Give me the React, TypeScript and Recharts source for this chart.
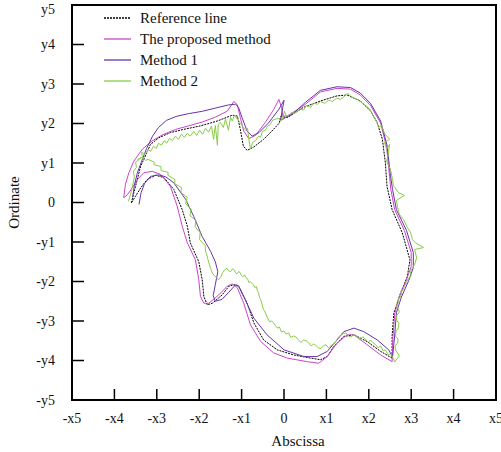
import { LineChart, Line, XAxis, YAxis, ReferenceArea } from 'recharts';

const xTicks = [-5, -4, -3, -2, -1, 0, 1, 2, 3, 4, 5];
const xTickLabels = ['-x5', '-x4', '-x3', '-x2', '-x1', '0', 'x1', 'x2', 'x3', 'x4', 'x5'];
const yTicks = [-5, -4, -3, -2, -1, 0, 1, 2, 3, 4, 5];
const yTickLabels = ['-y5', '-y4', '-y3', '-y2', '-y1', '0', 'y1', 'y2', 'y3', 'y4', 'y5'];

const seriesNames = ['Reference line', 'The proposed method', 'Method 1', 'Method 2'];

// [x, y] points, in drawing order
const referencePath: [number, number][] = [
  [-3.6, -0.01], [-3.54, 0.25], [-3.38, 0.92], [-3.15, 1.47], [-2.95, 1.64], [-2.68, 1.77],
  [-2.37, 1.85], [-1.97, 1.94], [-1.58, 2.06], [-1.22, 2.21], [-1.1, 2.19], [-1.03, 1.85],
  [-0.96, 1.43], [-0.87, 1.32], [-0.72, 1.4], [-0.48, 1.6], [-0.25, 1.85], [-0.11, 2.01],
  [-0.08, 2.18], [0.08, 2.15], [0.46, 2.41], [0.86, 2.57], [1.25, 2.7], [1.49, 2.72],
  [1.8, 2.57], [2.04, 2.32], [2.2, 2.02], [2.32, 1.6], [2.39, 1.01], [2.43, 0.41],
  [2.55, -0.18], [2.79, -0.77], [2.97, -1.45], [2.91, -1.87], [2.75, -2.29], [2.59, -2.8],
  [2.55, -3.39], [2.55, -3.94], [2.28, -3.77], [1.96, -3.52], [1.65, -3.35], [1.41, -3.39],
  [1.17, -3.65], [1.02, -3.9], [0.86, -3.98], [0.63, -3.94], [0.23, -3.86], [-0.16, -3.73],
  [-0.48, -3.48], [-0.71, -3.05], [-0.87, -2.55], [-1.07, -2.12], [-1.18, -2.08], [-1.3, -2.12],
  [-1.46, -2.34], [-1.69, -2.55], [-1.81, -2.59], [-1.89, -2.38], [-1.93, -1.95], [-2.01, -1.5],
  [-2.21, -1.02], [-2.28, -0.6], [-2.4, -0.18], [-2.6, 0.33], [-2.83, 0.63], [-3.03, 0.69],
  [-3.23, 0.58], [-3.38, 0.37], [-3.5, 0.16], [-3.6, -0.01],
];

const proposedPath: [number, number][] = [
  [-3.78, 0.12], [-3.74, 0.46], [-3.66, 0.75], [-3.54, 1.05], [-3.34, 1.35], [-3.11, 1.56],
  [-2.87, 1.71], [-2.56, 1.85], [-2.25, 1.94], [-1.92, 2.04], [-1.62, 2.16], [-1.34, 2.31],
  [-1.18, 2.56], [-1.1, 2.47], [-1.03, 2.15], [-0.95, 1.81], [-0.83, 1.62], [-0.67, 1.7],
  [-0.44, 2.03], [-0.24, 2.36], [-0.12, 2.61], [-0.06, 2.41], [-0.03, 2.19], [0.08, 2.19],
  [0.27, 2.32], [0.51, 2.49], [0.86, 2.8], [1.25, 2.89], [1.57, 2.87], [1.8, 2.72],
  [2.04, 2.46], [2.28, 2.01], [2.42, 1.4], [2.49, 0.66], [2.52, 0.33], [2.61, -0.18],
  [2.84, -0.71], [3.0, -1.27], [3.0, -1.62], [2.88, -1.98], [2.72, -2.39], [2.61, -2.82],
  [2.57, -3.4], [2.55, -4.03], [2.28, -3.86], [1.96, -3.6], [1.65, -3.35], [1.49, -3.35],
  [1.25, -3.56], [1.02, -3.9], [0.82, -4.07], [0.55, -4.03], [0.08, -3.94], [-0.24, -3.81],
  [-0.55, -3.52], [-0.79, -3.1], [-0.95, -2.55], [-1.1, -2.16], [-1.22, -2.06], [-1.34, -2.12],
  [-1.54, -2.34], [-1.77, -2.55], [-1.89, -2.55], [-1.97, -2.38], [-2.01, -1.95], [-2.09, -1.45],
  [-2.28, -1.02], [-2.4, -0.6], [-2.52, -0.09], [-2.68, 0.41], [-2.91, 0.71], [-3.11, 0.79],
  [-3.31, 0.75], [-3.46, 0.58], [-3.58, 0.37], [-3.69, 0.2], [-3.78, 0.12],
];

const method1Path: [number, number][] = [
  [-3.57, 0.13], [-3.53, 0.43], [-3.46, 0.74], [-3.36, 1.04], [-3.24, 1.37], [-3.1, 1.68],
  [-2.96, 1.9], [-2.77, 2.08], [-2.54, 2.18], [-2.25, 2.25], [-1.92, 2.31], [-1.62, 2.39],
  [-1.31, 2.47], [-1.14, 2.49], [-1.07, 2.4], [-0.99, 2.15], [-0.87, 1.81], [-0.75, 1.68],
  [-0.59, 1.77], [-0.36, 2.02], [-0.12, 2.36], [0.0, 2.59], [-0.08, 2.08], [0.04, 2.15],
  [0.19, 2.23], [0.51, 2.54], [0.86, 2.84], [1.25, 2.93], [1.57, 2.91], [1.8, 2.77],
  [2.04, 2.51], [2.28, 2.06], [2.43, 1.45], [2.51, 0.69], [2.56, 0.33], [2.65, -0.18],
  [2.89, -0.71], [3.05, -1.27], [3.05, -1.65], [2.94, -1.98], [2.77, -2.39], [2.65, -2.79],
  [2.61, -3.38], [2.56, -3.91], [2.47, -3.73], [2.2, -3.48], [1.88, -3.27], [1.65, -3.18],
  [1.41, -3.27], [1.25, -3.48], [1.02, -3.77], [0.78, -3.9], [0.47, -3.9], [0.0, -3.73],
  [-0.4, -3.35], [-0.71, -2.93], [-0.95, -2.38], [-1.07, -2.11], [-1.14, -2.08], [-1.3, -2.27],
  [-1.46, -2.45], [-1.62, -2.5], [-1.67, -2.36], [-1.62, -2.08], [-1.56, -1.75], [-1.62, -1.5],
  [-1.73, -1.24], [-1.93, -0.86], [-2.13, -0.35], [-2.32, 0.08], [-2.6, 0.5], [-2.79, 0.65],
  [-2.96, 0.7], [-3.15, 0.66], [-3.29, 0.48], [-3.37, 0.25], [-3.42, -0.05],
];

const method2Path: [number, number][] = [
  [-3.67, 0.03], [-3.62, 0.2], [-3.57, 0.43], [-3.53, 0.63], [-3.55, 0.79], [-3.48, 0.89],
  [-3.5, 1.02], [-3.41, 1.09], [-3.34, 1.17], [-3.36, 1.27], [-3.27, 1.22], [-3.2, 1.35],
  [-3.15, 1.29], [-3.08, 1.42], [-3.01, 1.37], [-2.96, 1.5], [-2.89, 1.45], [-2.82, 1.57],
  [-2.77, 1.5], [-2.7, 1.62], [-2.63, 1.57], [-2.56, 1.68], [-2.49, 1.6], [-2.42, 1.73],
  [-2.35, 1.65], [-2.28, 1.75], [-2.21, 1.68], [-2.13, 1.8], [-2.06, 1.7], [-1.99, 1.83],
  [-1.92, 1.73], [-1.85, 1.88], [-1.78, 1.78], [-1.71, 1.93], [-1.66, 1.6], [-1.62, 1.95],
  [-1.57, 1.45], [-1.55, 1.98], [-1.5, 2.03], [-1.43, 1.9], [-1.38, 2.11], [-1.31, 1.83],
  [-1.26, 2.16], [-1.22, 2.06], [-1.17, 2.21], [-1.1, 2.11], [-1.03, 2.01], [-0.98, 1.93],
  [-0.91, 1.83], [-0.86, 1.88], [-0.83, 1.6], [-0.79, 1.35], [-0.74, 1.52], [-0.67, 1.57],
  [-0.6, 1.68], [-0.55, 1.65], [-0.51, 1.8], [-0.44, 1.83], [-0.39, 1.93], [-0.32, 1.98],
  [-0.27, 2.08], [-0.2, 2.11], [-0.13, 2.13], [-0.08, 2.06], [-0.04, 2.11], [0.01, 2.31],
  [0.06, 2.18], [0.13, 2.23], [0.18, 2.28], [0.25, 2.26], [0.32, 2.31], [0.39, 2.36],
  [0.46, 2.34], [0.53, 2.46], [0.63, 2.41], [0.7, 2.51], [0.79, 2.49], [0.86, 2.56],
  [0.96, 2.51], [1.05, 2.59], [1.14, 2.56], [1.24, 2.64], [1.33, 2.61], [1.43, 2.69],
  [1.5, 2.77], [1.57, 2.69], [1.66, 2.64], [1.76, 2.59], [1.85, 2.51], [1.95, 2.44],
  [2.04, 2.34], [2.11, 2.18], [2.18, 2.06], [2.23, 1.9], [2.3, 1.95], [2.37, 1.75],
  [2.49, 1.6], [2.37, 1.52], [2.42, 1.35], [2.49, 1.47], [2.46, 1.22], [2.42, 1.04],
  [2.51, 0.84], [2.56, 0.58], [2.58, 0.43], [2.7, 0.25], [2.84, 0.18], [2.65, 0.05],
  [2.68, -0.13], [2.72, -0.3], [2.82, -0.43], [2.91, -0.64], [2.98, -0.74], [3.03, -0.94],
  [3.1, -1.02], [3.29, -1.14], [3.08, -1.19], [3.13, -1.4], [3.08, -1.57], [2.98, -1.75],
  [3.0, -1.85], [2.91, -1.95], [2.9, -2.03], [2.84, -2.11], [2.82, -2.18], [2.77, -2.26],
  [2.76, -2.36], [2.7, -2.46], [2.71, -2.53], [2.65, -2.61], [2.69, -2.69], [2.72, -2.77],
  [2.66, -2.86], [2.65, -2.97], [2.71, -3.06], [2.7, -3.17], [2.64, -3.27], [2.63, -3.38],
  [2.69, -3.46], [2.68, -3.55], [2.62, -3.64], [2.63, -3.73], [2.72, -3.88], [2.61, -4.04],
  [2.56, -3.9], [2.51, -3.83], [2.46, -3.86], [2.39, -3.73], [2.34, -3.76], [2.28, -3.63],
  [2.22, -3.68], [2.16, -3.6], [2.1, -3.55], [2.04, -3.48], [1.99, -3.54], [1.95, -3.5],
  [1.9, -3.43], [1.85, -3.4], [1.8, -3.47], [1.76, -3.45], [1.7, -3.36], [1.64, -3.35],
  [1.58, -3.41], [1.52, -3.38], [1.46, -3.3], [1.4, -3.32], [1.34, -3.36], [1.29, -3.4],
  [1.23, -3.5], [1.17, -3.58], [1.11, -3.62], [1.05, -3.68], [0.99, -3.6], [0.93, -3.63],
  [0.87, -3.7], [0.81, -3.68], [0.75, -3.62], [0.7, -3.58], [0.64, -3.63], [0.58, -3.55],
  [0.52, -3.5], [0.46, -3.48], [0.4, -3.54], [0.34, -3.48], [0.28, -3.4], [0.22, -3.38],
  [0.16, -3.42], [0.11, -3.3], [0.05, -3.33], [-0.01, -3.25], [-0.06, -3.28], [-0.11, -3.15],
  [-0.16, -3.18], [-0.2, -3.12], [-0.25, -3.04], [-0.29, -3.0], [-0.34, -3.02], [-0.39, -2.92],
  [-0.43, -2.82], [-0.46, -2.74], [-0.49, -2.7], [-0.51, -2.61], [-0.55, -2.46], [-0.58, -2.4],
  [-0.6, -2.28], [-0.63, -2.22], [-0.65, -2.13], [-0.69, -2.15], [-0.72, -2.08], [-0.76, -2.04],
  [-0.79, -2.01], [-0.83, -2.02], [-0.86, -1.93], [-0.9, -1.9], [-0.93, -1.83], [-0.97, -1.88],
  [-1.0, -1.85], [-1.04, -1.77], [-1.07, -1.75], [-1.11, -1.81], [-1.14, -1.78], [-1.18, -1.7],
  [-1.21, -1.68], [-1.26, -1.75], [-1.31, -1.73], [-1.35, -1.66], [-1.38, -1.7], [-1.42, -1.72],
  [-1.45, -1.78], [-1.48, -1.86], [-1.5, -1.9], [-1.54, -1.95], [-1.57, -1.93], [-1.61, -1.89],
  [-1.64, -1.85], [-1.68, -1.8], [-1.71, -1.73], [-1.74, -1.64], [-1.76, -1.57], [-1.8, -1.42],
  [-1.82, -1.33], [-1.85, -1.24], [-1.86, -1.09], [-1.99, -0.94], [-1.98, -0.76], [-2.1, -0.61],
  [-2.07, -0.46], [-2.22, -0.33], [-2.19, -0.18], [-2.32, -0.03], [-2.28, 0.13], [-2.43, 0.25],
  [-2.42, 0.38], [-2.58, 0.48], [-2.57, 0.58], [-2.74, 0.69], [-2.73, 0.76], [-2.9, 0.81],
  [-2.9, 0.91], [-3.07, 0.96], [-3.06, 1.02], [-3.2, 1.09], [-3.27, 1.07], [-3.36, 1.14],
  [-3.46, 1.09],
];

const FONT = "'Liberation Serif', 'Times New Roman', serif";
const TEXT = '#111';

const toRows = (path: [number, number][]) => path.map(([x, y]) => ({ x, y }));

const series = [
  { name: seriesNames[0], data: toRows(referencePath), color: '#000000', dash: '2 1' },
  { name: seriesNames[1], data: toRows(proposedPath), color: '#cc44cc', dash: undefined },
  { name: seriesNames[2], data: toRows(method1Path), color: '#6633aa', dash: undefined },
  { name: seriesNames[3], data: toRows(method2Path), color: '#88cc44', dash: undefined },
];

// y tick text; the top one is nudged down so it stays inside the page
function YTick(props: any) {
  const { x, y, payload } = props;
  const v = payload.value as number;
  return (
    <text
      x={x}
      y={v === 5 ? y + 4 : y}
      dy="0.355em"
      textAnchor="end"
      fill={TEXT}
      fontSize={14}
      fontFamily={FONT}
    >
      {yTickLabels[yTicks.indexOf(v)]}
    </text>
  );
}

function ChartLegend() {
  return (
    <div style={{ position: 'absolute', left: 0, top: 0, pointerEvents: 'none' }}>
      {series.map((s, i) => {
        const cy = 19 + i * 21;
        return (
          <div key={s.name}>
            <svg width={28} height={4} style={{ position: 'absolute', left: 104, top: cy - 3 }}>
              <line x1={0} y1={2} x2={27} y2={2} stroke={s.color} strokeWidth={1.3} strokeDasharray={s.dash} />
            </svg>
            <span
              style={{
                position: 'absolute',
                left: 140,
                top: cy - 9,
                fontFamily: FONT,
                fontSize: 15,
                lineHeight: '17px',
                color: TEXT,
                whiteSpace: 'nowrap',
              }}
            >
              {s.name}
            </span>
          </div>
        );
      })}
    </div>
  );
}

export default function App() {
  return (
    <div style={{ position: 'fixed', left: 0, top: 0, width: 501, height: 452, background: '#fff' }}>
      <LineChart width={501} height={452} margin={{ top: 5, right: 5, bottom: 0, left: 0 }}>
        <XAxis
          type="number"
          dataKey="x"
          domain={[-5, 5]}
          ticks={xTicks}
          interval={0}
          allowDataOverflow
          height={52}
          axisLine={false}
          tickSize={-11}
          tickMargin={24}
          tickLine={{ stroke: '#000', strokeWidth: 1.5 }}
          tick={{ fill: TEXT, fontSize: 14, fontFamily: FONT }}
          tickFormatter={(v: number) => xTickLabels[xTicks.indexOf(v)]}
          label={{
            value: 'Abscissa',
            position: 'insideBottom',
            offset: 6,
            dx: 14,
            style: { fill: TEXT, fontSize: 15, fontFamily: FONT },
          }}
        />
        <YAxis
          type="number"
          dataKey="y"
          domain={[-5, 5]}
          ticks={yTicks}
          interval={0}
          allowDataOverflow
          width={72}
          axisLine={false}
          tickSize={-12}
          tickMargin={29}
          tickLine={{ stroke: '#000', strokeWidth: 1.5 }}
          tick={<YTick />}
          label={{
            value: 'Ordinate',
            angle: -90,
            position: 'insideLeft',
            offset: 14,
            style: { fill: TEXT, fontSize: 15, fontFamily: FONT, textAnchor: 'middle' },
          }}
        />
        <ReferenceArea
          x1={-5}
          x2={5}
          y1={-5}
          y2={5}
          fill="none"
          stroke="#000"
          strokeWidth={2}
          ifOverflow="visible"
        />
        {series.map((s) => (
          <Line
            key={s.name}
            name={s.name}
            data={s.data}
            dataKey="y"
            type="linear"
            stroke={s.color}
            strokeWidth={1}
            strokeDasharray={s.dash}
            dot={false}
            activeDot={false}
            isAnimationActive={false}
          />
        ))}
      </LineChart>
      <ChartLegend />
    </div>
  );
}
